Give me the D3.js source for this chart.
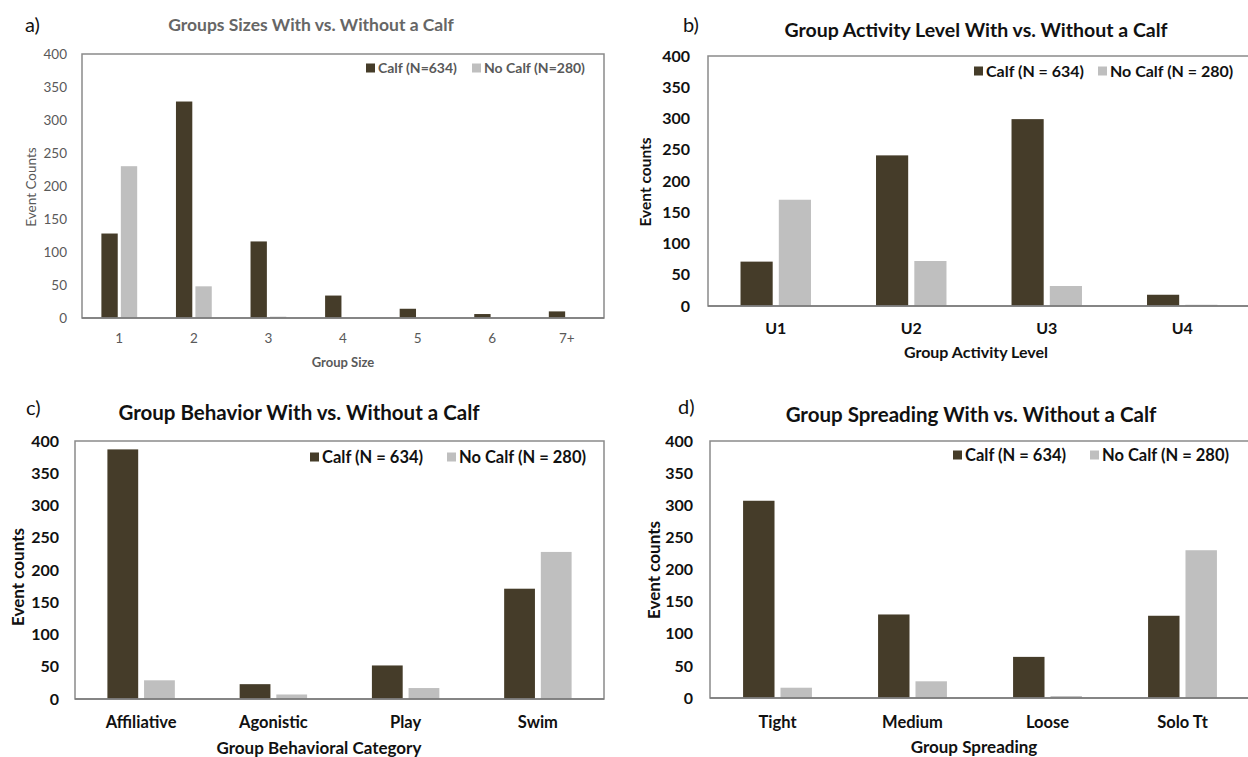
<!DOCTYPE html>
<html lang="en">
<head>
	<meta charset="UTF-8">
	<title>Calf groups</title>
	<script src="https://cdn.jsdelivr.net/npm/d3@7"></script>
	<style>
		body {
			margin: 0;
			background: #ffffff;
		}

		svg {
			display: block;
			font-family: "Lato", "Open Sans", sans-serif;
		}

		.frame {
			fill: none;
			stroke: #8a8a8a;
			stroke-width: 1.5px;
		}

		.baseline {
			stroke: #7a7a7a;
			stroke-width: 1.5px;
		}
	</style>
</head>
<body>

<script>
	// values
	var yTicks = [0, 50, 100, 150, 200, 250, 300, 350, 400];
	var seriesNames = ["calf", "noCalf"];

	var sizeCats = ["1", "2", "3", "4", "5", "6", "7+"];
	var sizeCalf = [128, 328, 116, 34, 14, 6, 10];
	var sizeNoCalf = [230, 48, 2, 0, 0, 0, 0];

	var activityCats = ["U1", "U2", "U3", "U4"];
	var activityCalf = [71, 241, 299, 18];
	var activityNoCalf = [170, 72, 32, 2];

	var behaviorCats = ["Affiliative", "Agonistic", "Play", "Swim"];
	var behaviorCalf = [387, 23, 52, 171];
	var behaviorNoCalf = [29, 7, 17, 228];

	var spreadCats = ["Tight", "Medium", "Loose", "Solo Tt"];
	var spreadCalf = [307, 130, 64, 128];
	var spreadNoCalf = [16, 26, 3, 230];

	var colors = {calf: "#453c29", noCalf: "#bfbfbf"};

	var width = 1248, height = 757;

	var svg = d3.select("body").append("svg")
		.attr("width", width)
		.attr("height", height);

	// layout of each panel (positions only, data comes from the arrays above)
	var panels = [
		{
			letter: "a)", letterX: 25, letterY: 32,
			title: "Groups Sizes With vs. Without a Calf", titleX: 311, titleY: 31, titleSize: 17.5, titleColor: "#666666",
			cats: sizeCats, calf: sizeCalf, noCalf: sizeNoCalf,
			legend: ["Calf (N=634)", "No Calf (N=280)"], legendX: [366, 472], legendY: 68, legendSize: 14,
			x0: 82, x1: 604, y0: 54, y1: 318, group: 0.48,
			xTitle: "Group Size", xTitleX: 343, xTitleY: 362, xTitleSize: 13, yTitle: "Event Counts", yTitleX: 31, yTitleY: 187, yTitleSize: 13.5,
			tickRight: 67, tickSize: 13.5, xLabelY: 338, axisSize: 13.5, textColor: "#595959", weight: "normal"
		},
		{
			letter: "b)", letterX: 683, letterY: 32,
			title: "Group Activity Level With vs. Without a Calf", titleX: 976, titleY: 37, titleSize: 19.5, titleColor: "#111",
			cats: activityCats, calf: activityCalf, noCalf: activityNoCalf,
			legend: ["Calf (N = 634)", "No Calf (N = 280)"], legendX: [974, 1098], legendY: 71, legendSize: 16,
			x0: 708, x1: 1250, y0: 56, y1: 306, group: 0.52,
			xTitle: "Group Activity Level", xTitleX: 976, xTitleY: 352, xTitleSize: 16, yTitle: "Event counts", yTitleX: 646, yTitleY: 182, yTitleSize: 15.5,
			tickRight: 690, tickSize: 16, xLabelY: 328, axisSize: 16, textColor: "#111", weight: "bold"
		},
		{
			letter: "c)", letterX: 26, letterY: 415,
			title: "Group Behavior With vs. Without a Calf", titleX: 299, titleY: 420, titleSize: 20.5, titleColor: "#111",
			cats: behaviorCats, calf: behaviorCalf, noCalf: behaviorNoCalf,
			legend: ["Calf (N = 634)", "No Calf (N = 280)"], legendX: [310, 447], legendY: 457, legendSize: 16.5,
			x0: 75, x1: 604, y0: 441, y1: 699, group: 0.51,
			xTitle: "Group Behavioral Category", xTitleX: 319, xTitleY: 748, xTitleSize: 17, yTitle: "Event counts", yTitleX: 18, yTitleY: 577, yTitleSize: 17,
			tickRight: 59, tickSize: 16, xLabelY: 722, axisSize: 16.5, textColor: "#111", weight: "bold"
		},
		{
			letter: "d)", letterX: 678, letterY: 414,
			title: "Group Spreading With vs. Without a Calf", titleX: 971, titleY: 422, titleSize: 20.5, titleColor: "#111",
			cats: spreadCats, calf: spreadCalf, noCalf: spreadNoCalf,
			legend: ["Calf (N = 634)", "No Calf (N = 280)"], legendX: [953, 1090], legendY: 455, legendSize: 16.5,
			x0: 710, x1: 1250, y0: 441, y1: 698, group: 0.51,
			xTitle: "Group Spreading", xTitleX: 974, xTitleY: 747, xTitleSize: 17, yTitle: "Event counts", yTitleX: 654, yTitleY: 570, yTitleSize: 17,
			tickRight: 693, tickSize: 16, xLabelY: 722, axisSize: 16.5, textColor: "#111", weight: "bold"
		}
	];

	panels.forEach(drawPanel);

	function drawPanel(p) {
		var g = svg.append("g");

		var rows = p.cats.map(function (c, i) {
			return {cat: c, calf: p.calf[i], noCalf: p.noCalf[i]};
		});

		var x = d3.scaleBand()
			.domain(p.cats)
			.range([p.x0, p.x1]);

		var groupW = x.bandwidth() * p.group;
		var xs = d3.scaleBand()
			.domain(seriesNames)
			.range([0, groupW])
			.paddingInner(0.16);

		var y = d3.scaleLinear()
			.domain([0, 400])
			.range([p.y1, p.y0]);

		// panel letter and title
		g.append("text")
			.attr("x", p.letterX)
			.attr("y", p.letterY)
			.attr("font-size", 20)
			.attr("fill", "#111")
			.text(p.letter);

		g.append("text")
			.attr("x", p.titleX)
			.attr("y", p.titleY)
			.attr("text-anchor", "middle")
			.attr("font-size", p.titleSize)
			.attr("font-weight", "bold")
			.attr("fill", p.titleColor)
			.text(p.title);

		// bars
		var grp = g.selectAll(".grp")
			.data(rows)
			.enter().append("g")
			.attr("transform", function (d) {
				return "translate(" + (x(d.cat) + (x.bandwidth() - groupW) / 2) + ",0)";
			});

		grp.selectAll("rect")
			.data(function (d) {
				return seriesNames.map(function (k) { return {key: k, value: d[k]}; });
			})
			.enter().append("rect")
			.attr("x", function (d) { return xs(d.key); })
			.attr("width", xs.bandwidth())
			.attr("y", function (d) { return y(d.value); })
			.attr("height", function (d) { return p.y1 - y(d.value); })
			.attr("fill", function (d) { return colors[d.key]; });

		// frame and zero line
		g.append("rect")
			.attr("class", "frame")
			.attr("x", p.x0)
			.attr("y", p.y0)
			.attr("width", p.x1 - p.x0)
			.attr("height", p.y1 - p.y0);

		g.append("line")
			.attr("class", "baseline")
			.attr("x1", p.x0)
			.attr("x2", p.x1)
			.attr("y1", y(0))
			.attr("y2", y(0));

		// y axis labels
		var yAxis = d3.axisLeft(y).tickValues(yTicks).tickSize(0).tickPadding(0);
		var ya = g.append("g")
			.attr("transform", "translate(" + p.tickRight + ",0)")
			.call(yAxis)
			.attr("font-family", null)
			.attr("font-size", null);
		ya.select(".domain").remove();
		ya.selectAll("text")
			.attr("font-size", p.tickSize)
			.attr("font-weight", p.weight)
			.attr("fill", p.textColor);

		// x axis labels
		var xAxis = d3.axisBottom(x).tickSize(0).tickPadding(0);
		var xa = g.append("g")
			.attr("transform", "translate(0," + p.xLabelY + ")")
			.call(xAxis)
			.attr("font-family", null)
			.attr("font-size", null);
		xa.select(".domain").remove();
		xa.selectAll("text")
			.attr("y", 0)
			.attr("dy", "0.35em")
			.attr("font-size", p.axisSize)
			.attr("font-weight", p.weight)
			.attr("fill", p.textColor);

		// axis titles
		g.append("text")
			.attr("x", p.xTitleX)
			.attr("y", p.xTitleY)
			.attr("dy", "0.35em")
			.attr("text-anchor", "middle")
			.attr("font-size", p.xTitleSize)
			.attr("font-weight", "bold")
			.attr("fill", p.textColor)
			.text(p.xTitle);

		g.append("text")
			.attr("transform", "translate(" + p.yTitleX + "," + p.yTitleY + ") rotate(-90)")
			.attr("text-anchor", "middle")
			.attr("dy", "0.35em")
			.attr("font-size", p.yTitleSize)
			.attr("font-weight", p.weight)
			.attr("fill", p.textColor)
			.text(p.yTitle);

		// legend
		seriesNames.forEach(function (k, i) {
			g.append("rect")
				.attr("x", p.legendX[i])
				.attr("y", p.legendY - 4.5)
				.attr("width", 9)
				.attr("height", 9)
				.attr("fill", colors[k]);
			g.append("text")
				.attr("x", p.legendX[i] + 12)
				.attr("y", p.legendY)
				.attr("dy", "0.35em")
				.attr("font-size", p.legendSize)
				.attr("font-weight", "bold")
				.attr("fill", p.textColor)
				.text(p.legend[i]);
		});
	}
</script>

</body>
</html>
